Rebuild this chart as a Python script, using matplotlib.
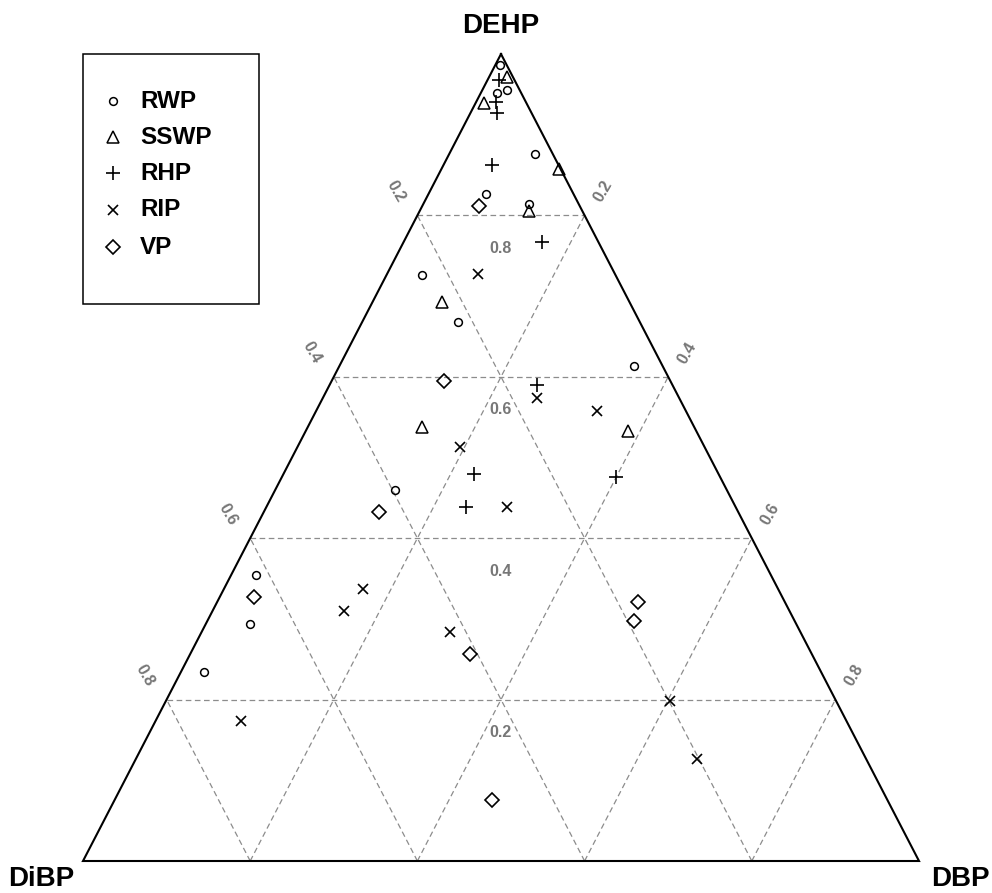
import numpy as np
import matplotlib
matplotlib.use("Agg")
import matplotlib.pyplot as plt
from matplotlib.patches import Rectangle

plt.rcParams['font.family'] = ['Liberation Sans', 'DejaVu Sans']

# ---- data: compositions (DEHP, DBP, DiBP fractions) ----
rwp_dehp = [0.986, 0.956, 0.952, 0.876, 0.827, 0.814, 0.726, 0.668, 0.613, 0.460, 0.354, 0.294, 0.234]
rwp_dbp  = [0.006, 0.029, 0.019, 0.103, 0.069, 0.127, 0.043, 0.115, 0.352, 0.143, 0.030, 0.053, 0.028]
rwp_dibp = [0.008, 0.015, 0.029, 0.021, 0.104, 0.059, 0.231, 0.217, 0.035, 0.397, 0.616, 0.653, 0.738]

sswp_dehp = [0.971, 0.939, 0.858, 0.806, 0.693, 0.538, 0.533]
sswp_dbp  = [0.022, 0.010, 0.140, 0.130, 0.083, 0.137, 0.385]
sswp_dibp = [0.007, 0.051, 0.002, 0.064, 0.224, 0.325, 0.082]

rhp_dehp = [0.968, 0.941, 0.927, 0.863, 0.767, 0.590, 0.480, 0.476, 0.439]
rhp_dbp  = [0.014, 0.023, 0.032, 0.058, 0.165, 0.248, 0.228, 0.400, 0.239]
rhp_dibp = [0.018, 0.036, 0.041, 0.079, 0.068, 0.162, 0.292, 0.124, 0.322]

rip_dehp = [0.727, 0.574, 0.558, 0.513, 0.439, 0.337, 0.310, 0.284, 0.173, 0.198, 0.127]
rip_dbp  = [0.109, 0.256, 0.336, 0.194, 0.288, 0.166, 0.157, 0.297, 0.102, 0.603, 0.671]
rip_dibp = [0.164, 0.170, 0.106, 0.293, 0.273, 0.497, 0.533, 0.419, 0.725, 0.199, 0.202]

vp_dehp = [0.812, 0.595, 0.433, 0.327, 0.257, 0.321, 0.298, 0.076]
vp_dbp  = [0.068, 0.134, 0.138, 0.041, 0.335, 0.503, 0.510, 0.451]
vp_dibp = [0.120, 0.271, 0.429, 0.632, 0.408, 0.176, 0.192, 0.473]

series_names = ["RWP", "SSWP", "RHP", "RIP", "VP"]
grid_ticks = [0.2, 0.4, 0.6, 0.8]
tick_labels = ["0.2", "0.4", "0.6", "0.8"]
vertex_labels = ["DEHP", "DiBP", "DBP"]

# ---- figure ----
W, H = 992, 893
fig = plt.figure(figsize=(W / 100, H / 100), dpi=100)
ax = fig.add_axes([83 / W, 32 / H, 836 / W, 807 / H])
ax.set_xlim(0, 1)
ax.set_ylim(0, 1)
ax.axis('off')


def tern(dehp, dbp, dibp):
    dehp = np.asarray(dehp, float)
    dbp = np.asarray(dbp, float)
    dibp = np.asarray(dibp, float)
    s = dehp + dbp + dibp
    a, c = dehp / s, dbp / s
    return c + a / 2.0, a


grid_kw = dict(color='#8c8c8c', lw=0.9, ls=(0, (4.5, 2.8)), zorder=1, clip_on=False)
for v in grid_ticks:
    # constant DEHP
    x, y = tern([v, v], [0, 1 - v], [1 - v, 0])
    ax.plot(x, y, **grid_kw)
    # constant DBP
    x, y = tern([0, 1 - v], [v, v], [1 - v, 0])
    ax.plot(x, y, **grid_kw)
    # constant DiBP
    x, y = tern([0, 1 - v], [1 - v, 0], [v, v])
    ax.plot(x, y, **grid_kw)

# triangle outline
tx, ty = tern([1, 0, 0, 1], [0, 0, 1, 0], [0, 1, 0, 0])
ax.plot(tx, ty, color='black', lw=1.5, zorder=2, clip_on=False, solid_joinstyle='miter')

# tick labels
tick_kw = dict(color='#777777', fontsize=11.5, fontweight='bold', ha='center', va='center')
dx = 22 / 836
dy = 24 / 807
for v, lab in zip(grid_ticks, tick_labels):
    # left edge: DiBP axis
    x, y = tern(1 - v, 0, v)
    ax.text(x - dx, y + dy, lab, rotation=-60, **tick_kw)
    # right edge: DBP axis
    x, y = tern(1 - v, v, 0)
    ax.text(x + dx * 0.85, y + dy, lab, rotation=60, **tick_kw)
    # interior: DEHP axis
    x, y = tern(v, (1 - v) / 2, (1 - v) / 2)
    ax.text(x, y - 33 / 807, lab, **tick_kw)

# vertex labels
vk = dict(fontsize=20, fontweight='bold', ha='center', va='center')
ax.text(0.5, 1 + 28 / 807, vertex_labels[0], **vk)
ax.text(-42 / 836, -18 / 807, vertex_labels[1], **vk)
ax.text(1 + 41 / 836, -18 / 807, vertex_labels[2], **vk)

styles = {
    "RWP":  dict(marker='o', ms=5.6, mew=1.1),
    "SSWP": dict(marker='^', ms=8.8, mew=1.1),
    "RHP":  dict(marker='+', ms=9.5, mew=1.2),
    "RIP":  dict(marker='x', ms=7.0, mew=1.2),
    "VP":   dict(marker='D', ms=6.8, mew=1.2),
}
data = {
    "RWP": (rwp_dehp, rwp_dbp, rwp_dibp),
    "SSWP": (sswp_dehp, sswp_dbp, sswp_dibp),
    "RHP": (rhp_dehp, rhp_dbp, rhp_dibp),
    "RIP": (rip_dehp, rip_dbp, rip_dibp),
    "VP": (vp_dehp, vp_dbp, vp_dibp),
}
for name in series_names:
    x, y = tern(*data[name])
    ax.plot(x, y, ls='none', color='black', mfc='none', mec='black',
            zorder=3, clip_on=False, **styles[name])

# legend (drawn in pixel overlay)
lax = fig.add_axes([0, 0, 1, 1])
lax.set_xlim(0, W)
lax.set_ylim(H, 0)
lax.axis('off')
lax.add_patch(Rectangle((83, 54), 176, 250, fill=False, ec='black', lw=1.1))
row_y = [101, 137, 173, 210, 247]
for name, yy in zip(series_names, row_y):
    st = dict(styles[name])
    lax.plot([113], [yy], ls='none', color='black', mfc='none', mec='black', **st)
    lax.text(140, yy, name, fontsize=17.5, fontweight='bold', ha='left', va='center')

fig.savefig("out.png", dpi=100)
